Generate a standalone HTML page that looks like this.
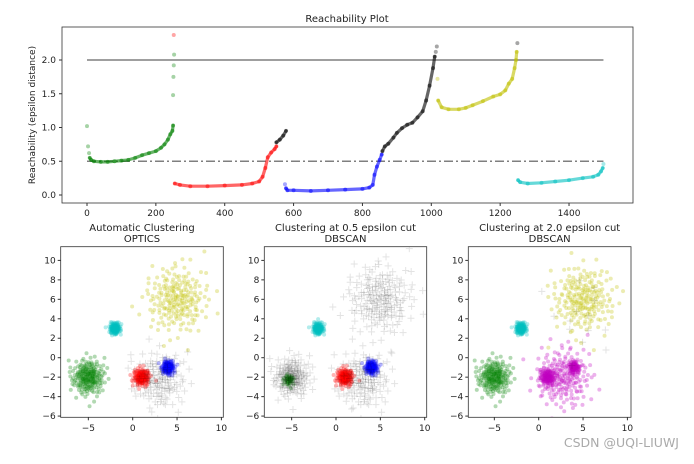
<!DOCTYPE html>
<html><head><meta charset="utf-8"><style>
body{margin:0;background:#fff}
svg text{font-family:"DejaVu Sans","Liberation Sans",sans-serif;fill:#222}
</style></head><body>
<svg id="c" width="694" height="459" viewBox="0 0 694 459" xmlns="http://www.w3.org/2000/svg">
<rect width="694" height="459" fill="#fff"/>
</svg>
<script>
// ---- Reachability data (index, reachability) per cluster segment ----
const greenStartIdx=[0,3,6];
const greenStartVal=[1.02,0.72,0.62];
const greenIdx=[8,12,20,40,60,80,100,120,140,160,180,200,215,225,235,242,248,250];
const greenVal=[0.55,0.52,0.5,0.49,0.49,0.5,0.51,0.52,0.55,0.59,0.62,0.65,0.7,0.75,0.82,0.9,0.95,1.03];
const greenOutIdx=[250,251,252,253];
const greenOutVal=[1.48,1.75,1.92,2.08];
const redOutIdx=[252];const redOutVal=[2.37];
const redIdx=[255,270,300,350,400,450,480,500,510,518,525,535,545,550];
const redVal=[0.17,0.15,0.13,0.13,0.14,0.15,0.17,0.2,0.27,0.4,0.56,0.63,0.68,0.72];
const blackAIdx=[550,560,570,578];const blackAVal=[0.78,0.82,0.88,0.95];
const blueIdx=[578,582,600,650,700,750,800,820,830,835,842,850,856];
const blueVal=[0.1,0.07,0.07,0.06,0.07,0.08,0.09,0.11,0.15,0.3,0.42,0.52,0.6];
const blueStartIdx=[575];const blueStartVal=[0.16];
const blackBIdx=[858,865,875,890,900,915,930,945,960,975,985,995,1005,1010];
const blackBVal=[0.65,0.72,0.76,0.85,0.92,0.99,1.04,1.07,1.15,1.24,1.4,1.62,1.88,2.05];
const blackBEndIdx=[1013,1016];const blackBEndVal=[2.12,2.2];
const yellowIdx=[1020,1030,1050,1080,1100,1120,1150,1180,1200,1215,1225,1235,1242,1246,1248];
const yellowVal=[1.4,1.3,1.27,1.27,1.29,1.33,1.39,1.46,1.49,1.55,1.65,1.72,1.88,2.0,2.12];
const yellowStartIdx=[1018];const yellowStartVal=[1.72];
const blackOutIdx=[1250];const blackOutVal=[2.25];
const cyanIdx=[1252,1258,1280,1320,1360,1400,1440,1470,1485,1493,1498];
const cyanVal=[0.22,0.19,0.17,0.18,0.2,0.22,0.25,0.27,0.3,0.35,0.4];
const cyanEndIdx=[1500];const cyanEndVal=[0.46];
const topXTicks=[0,200,400,600,800,1000,1200,1400];
const topYTicks=[0.0,0.5,1.0,1.5,2.0];
// ---- Scatter clusters: [cx, cy, sd, n, color, marker] per panel ----
const p1Clusters=[[-5,-2,0.9,220,'g','o'],[-2,3,0.3,150,'c','o'],[1,-2,0.45,160,'r','o'],[4,-1,0.35,140,'b','o'],[5,6,1.7,220,'y','o'],[3,-2.3,1.5,150,'k','+']];
const p2Clusters=[[-5.3,-2.3,0.3,40,'g','o'],[-5,-2,1.0,180,'k','+'],[-2,3,0.3,150,'c','o'],[1,-2,0.45,160,'r','o'],[4,-1,0.35,140,'b','o'],[5,6,1.8,200,'k','+'],[3,-2.3,1.5,150,'k','+']];
const p3Clusters=[[-5,-2,0.9,220,'g','o'],[-2,3,0.3,150,'c','o'],[1,-2,0.45,130,'m','o'],[4,-1,0.3,90,'m','o'],[2.8,-2,1.5,210,'m','o'],[5,6,1.7,220,'y','o'],[5,4,2.2,14,'k','+']];
const scXTicks=[-5,0,5,10];const scYTicks=[-6,-4,-2,0,2,4,6,8,10];

const COL={g:'#008000',r:'#ff0000',b:'#0000ff',k:'#000000',y:'#bfbf00',c:'#00bfbf',m:'#bf00bf'};
const svg=document.getElementById('c');const NS='http://www.w3.org/2000/svg';
function mk(t,a,p){const e=document.createElementNS(NS,t);for(const k in a)e.setAttribute(k,a[k]);(p||svg).appendChild(e);return e;}
function fmtMinus(v){return String(v).replace('-','\u2212');}

// ---- Top reachability axes ----
const tx=v=>87+v*0.3443, ty=v=>195-v*67.5;
const topG=mk('g',{});


function reachSeries(ix,vals,c,name,lineMode){
  const g=mk('g',{},topG);
  
  
  if(lineMode&&ix.length>1){
    const pts=ix.map((x,i)=>tx(x).toFixed(1)+','+ty(vals[i]).toFixed(1)).join(' ');
    const pl=mk('polyline',{points:pts,fill:'none',stroke:COL[c],'stroke-width':3.2,'stroke-linecap':'round','stroke-linejoin':'round','stroke-opacity':0.6},g);
    
    
  }
  ix.forEach((x,i)=>{const d=mk('circle',{cx:tx(x),cy:ty(vals[i]),r:2,fill:COL[c],'fill-opacity':lineMode?0.5:0.35},g);
    
    });
}
mk('line',{x1:tx(0),x2:tx(1500),y1:ty(2),y2:ty(2),stroke:'#000','stroke-opacity':0.5,'stroke-width':1.5},topG);
mk('line',{x1:tx(0),x2:tx(1500),y1:ty(0.5),y2:ty(0.5),stroke:'#000','stroke-opacity':0.5,'stroke-width':1.5,'stroke-dasharray':'9,3,2,3'},topG);
reachSeries(greenStartIdx,greenStartVal,'g','reach-green-start',false);
reachSeries(greenIdx,greenVal,'g','reach-green',true);
reachSeries(greenOutIdx,greenOutVal,'g','reach-green-outliers',false);
reachSeries(redOutIdx,redOutVal,'r','reach-red-outlier',false);
reachSeries(redIdx,redVal,'r','reach-red',true);
reachSeries(blackAIdx,blackAVal,'k','reach-noise-a',true);
reachSeries(blueStartIdx,blueStartVal,'b','reach-blue-start',false);
reachSeries(blueIdx,blueVal,'b','reach-blue',true);
reachSeries(blackBIdx,blackBVal,'k','reach-noise-b',true);
reachSeries(blackBEndIdx,blackBEndVal,'k','reach-noise-b-end',false);
reachSeries(yellowStartIdx,yellowStartVal,'y','reach-yellow-start',false);
reachSeries(yellowIdx,yellowVal,'y','reach-yellow',true);
reachSeries(blackOutIdx,blackOutVal,'k','reach-noise-outlier',false);
reachSeries(cyanIdx,cyanVal,'c','reach-cyan',true);
reachSeries(cyanEndIdx,cyanEndVal,'c','reach-cyan-end',false);
mk('rect',{x:62,y:27,width:571,height:176,fill:'none',stroke:'#333','stroke-width':0.8},topG);
topXTicks.forEach(v=>{mk('line',{x1:tx(v),x2:tx(v),y1:203,y2:206,stroke:'#333'},topG);
  const t=mk('text',{x:tx(v),y:216,'font-size':9,'text-anchor':'middle'},topG);t.textContent=v;
  });
topYTicks.forEach(v=>{mk('line',{x1:59,x2:62,y1:ty(v),y2:ty(v),stroke:'#333'},topG);
  const t=mk('text',{x:56,y:ty(v)+3,'font-size':9,'text-anchor':'end'},topG);t.textContent=v.toFixed(1);
  });
let tt=mk('text',{x:347,y:22,'font-size':10,'text-anchor':'middle'},topG);tt.textContent='Reachability Plot';

tt=mk('text',{x:0,y:0,'font-size':9,'text-anchor':'middle',transform:'translate(35,115) rotate(-90)'},topG);tt.textContent='Reachability (epsilon distance)';


// ---- scatter panels ----
function halton(i,b){let f=1,r=0;while(i>0){f/=b;r+=f*(i%b);i=Math.floor(i/b);}return r;}
function panel(left,right,x0,clusters,t1,t2,name){
  const g=mk('g',{});
  
  
  const sx=v=>x0+v*8.87, sy=v=>357.7-v*9.73;
  const clip=mk('clipPath',{id:name+'-clip'},g);
  mk('rect',{x:left,y:246.7,width:right-left,height:170.6},clip);
  const pg=mk('g',{'clip-path':'url(#'+name+'-clip)'},g);
  let seed=1;
  clusters.forEach(([cx,cy,sd,n,c,m],ci)=>{
    const cg=mk('g',{},pg);
    
    
    for(let i=0;i<n;i++){
      const u1=Math.max(1e-3,halton(seed+i,2)),u2=halton(seed+i,3);
      const rr=Math.sqrt(-2*Math.log(u1))*sd;
      const px=sx(cx+rr*Math.cos(2*Math.PI*u2)),py=sy(cy+rr*Math.sin(2*Math.PI*u2));
      if(m==='o'){mk('circle',{cx:px,cy:py,r:2,fill:COL[c],'fill-opacity':0.3},cg);}
      else{mk('path',{d:`M${px-3.5},${py}h7M${px},${py-3.5}v7`,stroke:'#000','stroke-opacity':0.11,'stroke-width':1},cg);}
    }
    seed+=n+7;
  });
  mk('rect',{x:left,y:246.7,width:right-left,height:170.6,fill:'none',stroke:'#333','stroke-width':0.8},g);
  scXTicks.forEach(v=>{mk('line',{x1:sx(v),x2:sx(v),y1:417.3,y2:420.3,stroke:'#333'},g);
    const t=mk('text',{x:sx(v),y:431,'font-size':9,'text-anchor':'middle'},g);t.textContent=fmtMinus(v);
    });
  scYTicks.forEach(v=>{mk('line',{x1:left-3,x2:left,y1:sy(v),y2:sy(v),stroke:'#333'},g);
    const t=mk('text',{x:left-5,y:sy(v)+3,'font-size':9,'text-anchor':'end'},g);t.textContent=fmtMinus(v);
    });
  const cxm=(left+right)/2;
  let a=mk('text',{x:cxm,y:231,'font-size':10,'text-anchor':'middle'},g);a.textContent=t1;
  
  a=mk('text',{x:cxm,y:242,'font-size':10,'text-anchor':'middle'},g);a.textContent=t2;
  
}
panel(60.7,223.3,132.7,p1Clusters,'Automatic Clustering','OPTICS','optics-panel');
panel(264.3,426.7,336,p2Clusters,'Clustering at 0.5 epsilon cut','DBSCAN','dbscan-05-panel');
panel(468.3,631,538.7,p3Clusters,'Clustering at 2.0 epsilon cut','DBSCAN','dbscan-20-panel');
const wm=mk('text',{x:679,y:447,'font-size':12.5,'text-anchor':'end'});
wm.textContent='CSDN @UQI-LIUWJ';
wm.setAttribute('style','fill:#aaa');


</script>
</body></html>
